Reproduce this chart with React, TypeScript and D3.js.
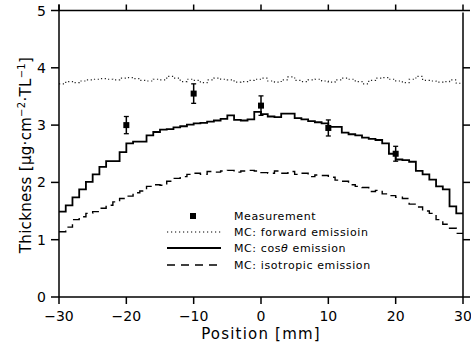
import React, { useRef, useEffect } from 'react';
import * as d3 from 'd3';

// bin centres run from -29.5 to 29.5 mm, 1 mm wide
const binEdges = d3.range(-30, 30, 1);

const cosValues = [
  1.49, 1.6, 1.74, 1.88, 2.01, 2.14, 2.27, 2.37, 2.37, 2.53,
  2.68, 2.71, 2.71, 2.82, 2.88, 2.92, 2.93, 2.96, 2.98, 3.01,
  3.03, 3.04, 3.06, 3.08, 3.11, 3.17, 3.09, 3.08, 3.1, 3.23,
  3.19, 3.15, 3.14, 3.2, 3.2, 3.12, 3.1, 3.07, 3.05, 3.03,
  2.97, 2.97, 2.87, 2.84, 2.82, 2.78, 2.76, 2.74, 2.68, 2.5,
  2.4, 2.39, 2.36, 2.2, 2.14, 2.05, 1.93, 1.88, 1.58, 1.46,
];

const isoValues = [
  1.14, 1.22, 1.35, 1.4, 1.46, 1.49, 1.55, 1.6, 1.66, 1.72,
  1.76, 1.82, 1.85, 1.93, 1.96, 1.95, 2.02, 2.07, 2.1, 2.14,
  2.16, 2.14, 2.19, 2.18, 2.2, 2.21, 2.18, 2.2, 2.21, 2.2,
  2.17, 2.16, 2.2, 2.16, 2.19, 2.14, 2.16, 2.1, 2.13, 2.12,
  2.09, 2.04, 2.02, 1.96, 1.93, 1.91, 1.84, 1.86, 1.8, 1.77,
  1.74, 1.72, 1.62, 1.57, 1.5, 1.46, 1.35, 1.27, 1.2, 1.11,
];

const forwardValues = [
  3.72, 3.76, 3.74, 3.77, 3.79, 3.8, 3.81, 3.8, 3.79, 3.82,
  3.83, 3.81, 3.78, 3.77, 3.8, 3.79, 3.85, 3.82, 3.76, 3.8,
  3.78, 3.74, 3.79, 3.82, 3.8, 3.79, 3.75, 3.76, 3.78, 3.8,
  3.82, 3.77, 3.75, 3.79, 3.84, 3.78, 3.76, 3.79, 3.8, 3.77,
  3.75, 3.79, 3.82, 3.8, 3.76, 3.72, 3.78, 3.82, 3.83, 3.8,
  3.77, 3.74, 3.8, 3.85, 3.78, 3.77, 3.75, 3.76, 3.79, 3.73,
];

const measX = [-20, -10, 0, 10, 20];
const measY = [3.0, 3.55, 3.34, 2.95, 2.5];
const measErr = [0.15, 0.17, 0.17, 0.14, 0.13];

const xTicks = [-30, -20, -10, 0, 10, 20, 30];
const yTicks = [0, 1, 2, 3, 4, 5];

const legendItems = [
  { label: 'Measurement', kind: 'marker' },
  { label: 'MC: forward emissioin', kind: 'dotted' },
  { label: 'MC: cosθ emission', kind: 'solid' },
  { label: 'MC: isotropic emission', kind: 'dashed' },
];

const width = 471;
const height = 346;
const margin = { top: 10.5, right: 8, bottom: 49, left: 59 };
const font = 'DejaVu Sans, Verdana, sans-serif';

const App: React.FC = () => {
  const svgRef = useRef<SVGSVGElement | null>(null);

  useEffect(() => {
    const svg = d3.select(svgRef.current);
    svg.selectAll('*').remove();

    const x = d3.scaleLinear().domain([-30, 30]).range([margin.left, width - margin.right]);
    const y = d3.scaleLinear().domain([0, 5]).range([height - margin.bottom, margin.top]);

    const stepLine = d3.line<[number, number]>()
      .x(d => x(d[0]))
      .y(d => y(d[1]))
      .curve(d3.curveStepAfter);

    const toSteps = (vals: number[]): [number, number][] => {
      const pts: [number, number][] = binEdges.map((e, i) => [e, vals[i]]);
      pts.push([30, vals[vals.length - 1]]);
      return pts;
    };

    // histograms
    svg.append('path')
      .attr('d', stepLine(toSteps(forwardValues)))
      .attr('fill', 'none')
      .attr('stroke', '#222')
      .attr('stroke-width', 1.2)
      .attr('stroke-dasharray', '1.2,2.6');

    svg.append('path')
      .attr('d', stepLine(toSteps(cosValues)))
      .attr('fill', 'none')
      .attr('stroke', '#000')
      .attr('stroke-width', 1.8);

    svg.append('path')
      .attr('d', stepLine(toSteps(isoValues)))
      .attr('fill', 'none')
      .attr('stroke', '#000')
      .attr('stroke-width', 1.4)
      .attr('stroke-dasharray', '8,5');

    // measurements with error bars
    const meas = svg.append('g');
    measX.forEach((mx, i) => {
      const cx = x(mx);
      const top = y(measY[i] + measErr[i]);
      const bot = y(measY[i] - measErr[i]);
      meas.append('line').attr('x1', cx).attr('x2', cx).attr('y1', top).attr('y2', bot)
        .attr('stroke', '#000').attr('stroke-width', 1.5);
      [top, bot].forEach(cy => {
        meas.append('line').attr('x1', cx - 2.5).attr('x2', cx + 2.5).attr('y1', cy).attr('y2', cy)
          .attr('stroke', '#000').attr('stroke-width', 1.3);
      });
      meas.append('rect').attr('x', cx - 3).attr('y', y(measY[i]) - 3)
        .attr('width', 6).attr('height', 6).attr('fill', '#000');
    });

    // frame
    const x0 = x(-30), x1 = x(30), y0 = y(0), y1 = y(5);
    const frame = svg.append('g').attr('stroke', '#000').attr('stroke-width', 1.5);
    frame.append('line').attr('x1', x0).attr('x2', x0).attr('y1', y0).attr('y2', y1 - 6);
    frame.append('line').attr('x1', x0).attr('x2', x1).attr('y1', y0).attr('y2', y0);
    frame.append('line').attr('x1', x0).attr('x2', x1).attr('y1', y1).attr('y2', y1);
    frame.append('line').attr('x1', x1).attr('x2', x1).attr('y1', y0).attr('y2', y1 + 2);

    // ticks (all pointing outward)
    xTicks.forEach(t => {
      frame.append('line').attr('x1', x(t)).attr('x2', x(t)).attr('y1', y0).attr('y2', y0 + 7);
      frame.append('line').attr('x1', x(t)).attr('x2', x(t)).attr('y1', y1).attr('y2', y1 - 6);
    });
    yTicks.forEach(t => {
      frame.append('line').attr('x1', x0 - 8).attr('x2', x0).attr('y1', y(t)).attr('y2', y(t));
      frame.append('line').attr('x1', x1).attr('x2', x1 + 7).attr('y1', y(t)).attr('y2', y(t));
    });

    // tick labels
    svg.append('g').selectAll('text').data(xTicks).join('text')
      .attr('x', d => x(d)).attr('y', y0 + 24)
      .attr('text-anchor', 'middle')
      .style('font-family', font).style('font-size', '14px')
      .text(d => (d < 0 ? '\u2212' + Math.abs(d) : String(d)));

    svg.append('g').selectAll('text').data(yTicks).join('text')
      .attr('x', x0 - 13).attr('y', d => y(d) + 5)
      .attr('text-anchor', 'end')
      .style('font-family', font).style('font-size', '14px')
      .text(d => String(d));

    // axis titles
    svg.append('text')
      .attr('x', (x0 + x1) / 2).attr('y', 339)
      .attr('text-anchor', 'middle')
      .style('font-family', font).style('font-size', '15px').style('letter-spacing', '1.2px')
      .text('Position [mm]');

    const yl = svg.append('text')
      .attr('transform', 'translate(31,155) rotate(-90)')
      .attr('text-anchor', 'middle')
      .style('font-family', font).style('font-size', '15px').style('letter-spacing', '0.3px');
    yl.append('tspan').text('Thickness [\u03bcg\u00b7cm');
    yl.append('tspan').attr('dy', -6).style('font-size', '10px').text('\u22122');
    yl.append('tspan').attr('dy', 6).text('\u00b7TL');
    yl.append('tspan').attr('dy', -6).style('font-size', '10px').text('\u22121');
    yl.append('tspan').attr('dy', 6).text(']');

    // legend
    const leg = svg.append('g');
    const rowY = [216, 232, 248, 265];
    legendItems.forEach((item, i) => {
      const cy = rowY[i];
      if (item.kind === 'marker') {
        leg.append('rect').attr('x', 190).attr('y', cy - 3).attr('width', 6).attr('height', 6).attr('fill', '#000');
      } else {
        const ln = leg.append('line').attr('x1', 167).attr('x2', 221).attr('y1', cy).attr('y2', cy)
          .attr('stroke', '#000');
        if (item.kind === 'dotted') ln.attr('stroke-width', 1.1).attr('stroke-dasharray', '1.2,2.8');
        if (item.kind === 'solid') ln.attr('stroke-width', 1.8);
        if (item.kind === 'dashed') ln.attr('stroke-width', 1.4).attr('stroke-dasharray', '8,6');
      }
      const t = leg.append('text').attr('x', 234).attr('y', cy + 4)
        .style('font-family', font).style('font-size', '11px').style('letter-spacing', '0.6px');
      if (item.kind === 'solid') {
        t.append('tspan').text('MC: cos');
        t.append('tspan').style('font-style', 'italic').text('\u03b8');
        t.append('tspan').text(' emission');
      } else {
        t.text(item.label);
      }
    });
  }, []);

  return (
    <svg
      ref={svgRef}
      width={width}
      height={height}
      style={{ position: 'absolute', left: 0, top: 0, background: '#fff' }}
    />
  );
};

export default App;
